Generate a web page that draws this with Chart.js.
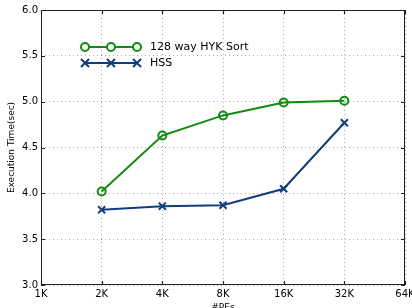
<!DOCTYPE html>
<html>
<head>
<meta charset="utf-8">
<script src="https://cdn.jsdelivr.net/npm/chart.js@4/dist/chart.umd.min.js"></script>
<style>
  html, body { margin: 0; padding: 0; background: #fff; }
  #wrap { position: relative; width: 412px; height: 308px; }
</style>
</head>
<body>
<div id="wrap"><canvas id="c" width="412" height="308"></canvas></div>
<script>
/* ── Data ─────────────────────────────────────────────── */
const peLabels = ['1K', '2K', '4K', '8K', '16K', '32K', '64K'];
const hykSort  = [null, 4.02, 4.63, 4.85, 4.99, 5.01, null];
const hss      = [null, 3.82, 3.86, 3.87, 4.05, 4.77, null];
const seriesNames = ['128 way HYK Sort', 'HSS'];
const yMin = 3.0, yMax = 6.0, yStep = 0.5;

const GREEN = '#118a11';
const BLUE  = '#123d7b';
const FONT  = 'DejaVu Sans';

/* ── Frame, inward ticks and legend (matplotlib look) ─── */
const framePlugin = {
  id: 'frame',
  afterDraw(chart) {
    const { ctx, chartArea: a, scales: { x, y } } = chart;
    ctx.save();
    ctx.strokeStyle = '#222';
    ctx.lineWidth = 1;
    ctx.strokeRect(Math.round(a.left) + 0.5, Math.round(a.top) + 0.5,
                   Math.round(a.right - a.left) - 1, Math.round(a.bottom - a.top) - 1);

    const tl = 4;
    ctx.lineWidth = 1.2;
    ctx.beginPath();
    x.ticks.forEach((t, i) => {
      const px = Math.round(x.getPixelForTick(i)) + 0.5;
      ctx.moveTo(px, a.bottom); ctx.lineTo(px, a.bottom - tl);
      ctx.moveTo(px, a.top);    ctx.lineTo(px, a.top + tl);
    });
    y.ticks.forEach((t, i) => {
      const py = Math.round(y.getPixelForTick(i)) + 0.5;
      ctx.moveTo(a.left, py);  ctx.lineTo(a.left + tl, py);
      ctx.moveTo(a.right, py); ctx.lineTo(a.right - tl, py);
    });
    ctx.stroke();

    // legend with three markers per entry
    const rows = [
      { name: seriesNames[0], color: GREEN, marker: 'circle', yy: 47 },
      { name: seriesNames[1], color: BLUE,  marker: 'cross',  yy: 63 }
    ];
    const xs = [85, 111, 137];
    rows.forEach(r => {
      ctx.strokeStyle = r.color;
      ctx.lineWidth = 2;
      ctx.beginPath();
      ctx.moveTo(xs[0], r.yy); ctx.lineTo(xs[2], r.yy);
      ctx.stroke();
      xs.forEach(mx => {
        ctx.beginPath();
        if (r.marker === 'circle') {
          ctx.fillStyle = '#fff';
          ctx.arc(mx, r.yy, 4, 0, Math.PI * 2);
          ctx.fill();
        } else {
          ctx.moveTo(mx - 4, r.yy - 4); ctx.lineTo(mx + 4, r.yy + 4);
          ctx.moveTo(mx - 4, r.yy + 4); ctx.lineTo(mx + 4, r.yy - 4);
        }
        ctx.stroke();
      });
      ctx.fillStyle = '#000';
      ctx.font = '11px "' + FONT + '"';
      ctx.textBaseline = 'middle';
      ctx.textAlign = 'left';
      ctx.fillText(r.name, 150, r.yy);
    });
    ctx.restore();
  }
};

new Chart(document.getElementById('c'), {
  type: 'line',
  data: {
    labels: peLabels,
    datasets: [
      {
        label: seriesNames[0],
        data: hykSort,
        borderColor: GREEN,
        backgroundColor: '#fff',
        borderWidth: 2,
        pointStyle: 'circle',
        pointRadius: 4,
        pointBorderWidth: 2,
        pointBorderColor: GREEN,
        pointBackgroundColor: 'rgba(255,255,255,0)',
        tension: 0
      },
      {
        label: seriesNames[1],
        data: hss,
        borderColor: BLUE,
        backgroundColor: BLUE,
        borderWidth: 2,
        pointStyle: 'crossRot',
        pointRadius: 5,
        pointBorderWidth: 2,
        pointBorderColor: BLUE,
        tension: 0
      }
    ]
  },
  options: {
    responsive: false,
    animation: false,
    events: [],
    layout: { padding: { top: 10, right: 7, left: 0, bottom: 0 } },
    plugins: { legend: { display: false }, tooltip: { enabled: false } },
    scales: {
      x: {
        type: 'category',
        offset: false,
        grid: { color: '#aaa', lineWidth: 1, drawTicks: false },
        border: { display: false, dash: [1, 3] },
        ticks: { color: '#000', padding: 3, font: { family: FONT, size: 10 }, maxRotation: 0, autoSkip: false },
        title: { display: true, text: '#PEs', color: '#000', font: { family: FONT, size: 9 }, padding: { top: 0, bottom: -5 } },
        afterFit(s) { s.height = 23; s.paddingRight = 0; s.paddingLeft = 0; }
      },
      y: {
        min: yMin, max: yMax,
        grid: { color: '#aaa', lineWidth: 1, drawTicks: false },
        border: { display: false, dash: [1, 3] },
        ticks: {
          stepSize: yStep, color: '#000', padding: 3,
          font: { family: FONT, size: 10 },
          callback: v => v.toFixed(1)
        },
        title: { display: true, text: 'Execution Time(sec)', color: '#000', font: { family: FONT, size: 9 }, padding: { top: 6, bottom: 0 } },
        afterFit(s) { s.width = 41; s.paddingTop = 0; s.paddingBottom = 0; }
      }
    }
  },
  plugins: [framePlugin]
});
</script>
</body>
</html>
